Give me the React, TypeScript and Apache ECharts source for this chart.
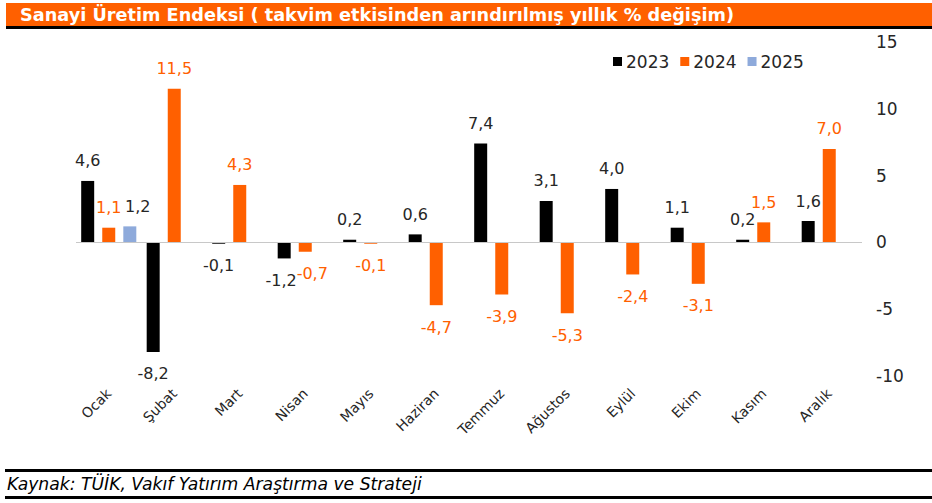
import React, { useEffect, useRef } from "react";
import * as echarts from "echarts";

const categories = ["Ocak", "Şubat", "Mart", "Nisan", "Mayıs", "Haziran", "Temmuz", "Ağustos", "Eylül", "Ekim", "Kasım", "Aralık"];
const s2023 = [4.6, -8.2, -0.1, -1.2, 0.2, 0.6, 7.4, 3.1, 4.0, 1.1, 0.2, 1.6];
const s2024 = [1.1, 11.5, 4.3, -0.7, -0.1, -4.7, -3.9, -5.3, -2.4, -3.1, 1.5, 7.0];
const s2025 = [1.2, null, null, null, null, null, null, null, null, null, null, null];
const yTicks = { min: -10, max: 15, interval: 5 };
const title = "Sanayi Üretim Endeksi ( takvim etkisinden arındırılmış yıllık % değişim)";
const source = "Kaynak: TÜİK, Vakıf Yatırım Araştırma ve Strateji";

const FONT = "DejaVu Sans";

// label nudges (style only), keyed "series:index"
const labelNudge: Record<string, number[]> = {
  "2025:0": [8, 0],
  "2023:3": [-3, 0],
  "2024:3": [7, 0],
};

function fmt(v: number) {
  return v.toFixed(1).replace(".", ",");
}

function mkSeries(name: string, data: (number | null)[], color: string, labelColor: string) {
  return {
    name,
    type: "bar",
    data: data.map((v, i) =>
      v === null
        ? null
        : {
            value: v,
            label: {
              position: v >= 0 ? "top" : "bottom",
              distance: v >= 0 ? 12 : 14,
              offset: labelNudge[name + ":" + i] || [0, 0],
            },
          }
    ),
    barWidth: 13,
    barGap: "62%",
    itemStyle: { color },
    label: {
      show: true,
      formatter: (p: any) => fmt(p.value),
      color: labelColor,
      fontFamily: FONT,
      fontSize: 16,
    },
  };
}

export default function App() {
  const ref = useRef<HTMLDivElement>(null);
  useEffect(() => {
    if (!ref.current) return;
    const chart = echarts.init(ref.current, null, { renderer: "svg" });
    const s1: any = mkSeries("2023", s2023, "#000000", "#262626");
    s1.markLine = {
      silent: true,
      symbol: "none",
      label: { show: false },
      lineStyle: { color: "#c8c8c8", width: 1, type: "solid" },
      data: [{ yAxis: 0 }],
    };
    chart.setOption({
      animation: false,
      backgroundColor: "#ffffff",
      graphic: [
        { type: "rect", shape: { x: 6, y: 3, width: 926, height: 23 }, style: { fill: "#ff6000" } },
        { type: "rect", shape: { x: 6, y: 26, width: 926, height: 3 }, style: { fill: "#000000" } },
        {
          type: "text",
          x: 20,
          y: 15,
          style: { text: title, fill: "#ffffff", fontFamily: FONT, fontSize: 17.7, fontWeight: "bold", verticalAlign: "middle" },
        },
        { type: "rect", shape: { x: 5, y: 469, width: 927, height: 3 }, style: { fill: "#000000" } },
        { type: "rect", shape: { x: 5, y: 496, width: 927, height: 3 }, style: { fill: "#000000" } },
        {
          type: "text",
          x: 7,
          y: 484,
          style: { text: source, fill: "#000000", fontFamily: FONT, fontSize: 17.2, fontStyle: "italic", verticalAlign: "middle" },
        },
      ],
      legend: {
        top: 48,
        left: 608,
        itemWidth: 9,
        itemHeight: 9,
        itemGap: 11,
        icon: "rect",
        textStyle: { fontFamily: FONT, fontSize: 17, color: "#262626", padding: [0, 0, 0, -1] },
        data: ["2023", "2024", "2025"],
      },
      grid: { left: 76, right: 70, top: 42, bottom: 127, containLabel: false },
      xAxis: {
        type: "category",
        data: categories,
        axisLine: { show: false },
        axisTick: { show: false },
        axisLabel: {
          rotate: 45,
          interval: 0,
          margin: 15,
          fontFamily: FONT,
          fontSize: 14,
          color: "#262626",
        },
      },
      yAxis: {
        type: "value",
        position: "right",
        min: yTicks.min,
        max: yTicks.max,
        interval: yTicks.interval,
        splitLine: { show: false },
        axisLine: { show: false },
        axisTick: { show: false },
        axisLabel: { fontFamily: FONT, fontSize: 17, color: "#262626", margin: 14, align: "left" },
      },
      series: [s1, mkSeries("2024", s2024, "#ff6000", "#ff6000"), mkSeries("2025", s2025, "#8eaadb", "#262626")],
    });
    return () => chart.dispose();
  }, []);
  return <div ref={ref} style={{ width: 932, height: 503, position: "absolute", left: 0, top: 0 }} />;
}
